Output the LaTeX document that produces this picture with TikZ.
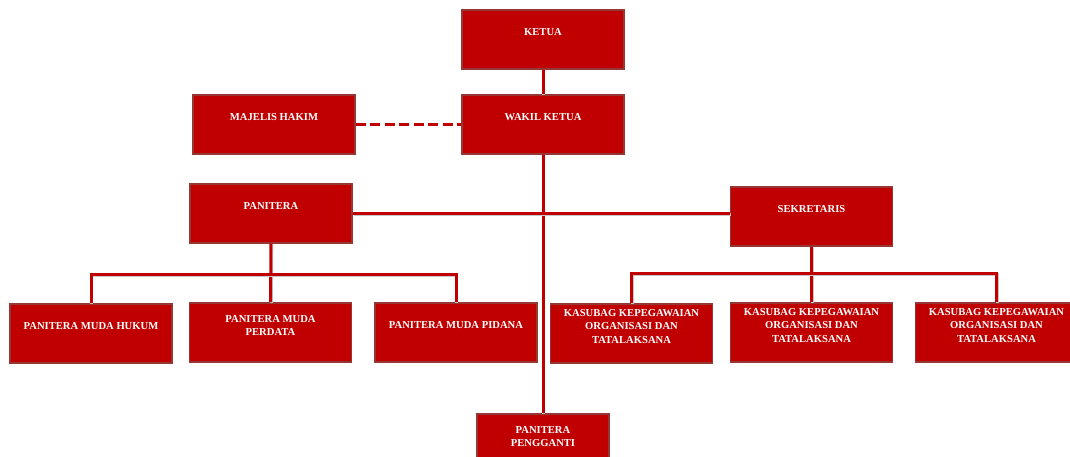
\documentclass[tikz,border=0pt]{standalone}
\usepackage{fontspec}
\setmainfont{Liberation Serif}
\usetikzlibrary{positioning}

\definecolor{unitfill}{HTML}{C00000}
\definecolor{unitedge}{HTML}{953735}
\definecolor{linkred}{HTML}{C00000}

\tikzset{
    unit/.style = {draw = unitedge, fill = unitfill, line width = 1.6pt,
        minimum width = 162pt, minimum height = 59pt, anchor = north,
        inner sep = 0pt, label = {[unittext]center:{#1}}},
    unittext/.style = {text = white, align = center, yshift = 7pt,
        font = \fontsize{10.6}{13.5}\selectfont\bfseries},
    link/.style = {draw = linkred, line width = 3pt,
        preaction = {draw = black!22, line width = 3pt,
            transform canvas = {xshift = 0.8pt, yshift = -1pt}}},
    dashlink/.style = {draw = linkred, line width = 3.2pt,
        dash pattern = on 10pt off 4.5pt}}

\begin{document}
\begin{tikzpicture}[x = 1pt, y = -1pt]
\useasboundingbox (0,0) rectangle (1070,457);
\clip (0,0) rectangle (1070,457);

% top
\node[unit = {KETUA}] (ketua) at (543,9) {};
\node[unit = {WAKIL KETUA}] (wakil) at (543,94) {};
\node[unit = {MAJELIS HAKIM}] (majelis) at (274,94) {};

% second row
\node[unit = {PANITERA}] (panitera) at (271,183) {};
\node[unit = {SEKRETARIS}] (sekretaris) at (811.5,186) {};

% panitera muda
\node[unit = {PANITERA MUDA HUKUM}] (hukum) at (91,303) {};
\node[unit = {PANITERA MUDA\\PERDATA}] (perdata) at (270.5,302) {};
\node[unit = {PANITERA MUDA PIDANA}] (pidana) at (456,302) {};

% kasubag
\node[unit = {KASUBAG KEPEGAWAIAN\\ORGANISASI DAN\\TATALAKSANA}] (kasubagA) at (631.5,303) {};
\node[unit = {KASUBAG KEPEGAWAIAN\\ORGANISASI DAN\\TATALAKSANA}] (kasubagB) at (811.5,302) {};
\node[unit = {KASUBAG KEPEGAWAIAN\\ORGANISASI DAN\\TATALAKSANA}] (kasubagC) at (996.5,302) {};

% bottom
\node[unit = {PANITERA\\PENGGANTI}, minimum width = 132pt] (pengganti) at (543,413) {};

\coordinate (pbus) at (270,274);
\coordinate (sbus) at (811,273);

% connectors
\draw[link] (ketua.south) -- (wakil.north);
\draw[link] (wakil.south) -- (pengganti.north);
\draw[dashlink] (majelis.east) -- (wakil.west);
\draw[link] (panitera.east) -- (panitera.east -| sekretaris.west);
\draw[link] (panitera.south) -- (perdata.north);
\draw[link] (hukum.north) |- (pbus) -| (pidana.north);
\draw[link] (sekretaris.south) -- (kasubagB.north);
\draw[link] (kasubagA.north) |- (sbus) -| (kasubagC.north);
\end{tikzpicture}
\end{document}
